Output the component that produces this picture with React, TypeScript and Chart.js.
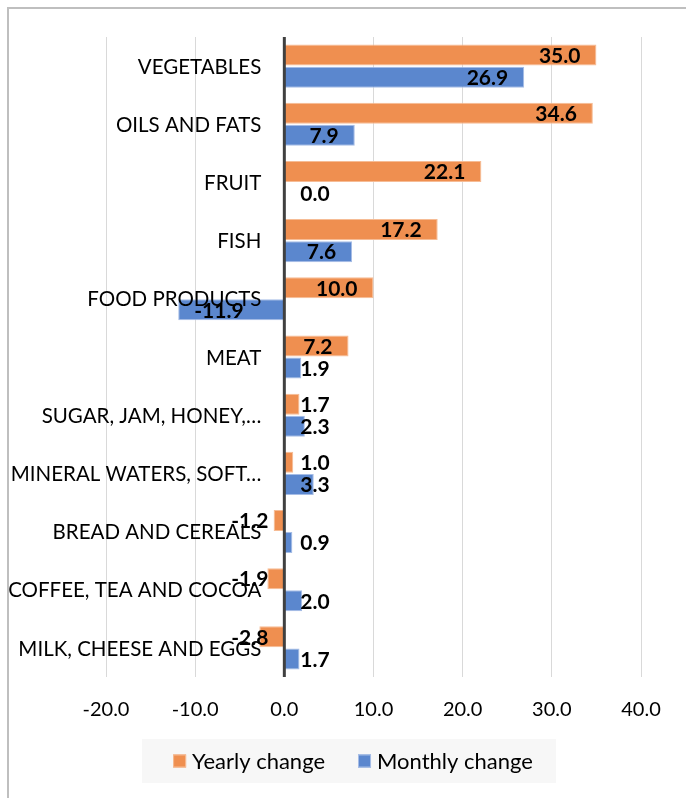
import React, { useEffect, useRef } from 'react';
import { Chart, registerables } from 'chart.js';

Chart.register(...registerables);

const categories = [
  'VEGETABLES',
  'OILS AND FATS',
  'FRUIT',
  'FISH',
  'FOOD PRODUCTS',
  'MEAT',
  'SUGAR, JAM, HONEY,…',
  'MINERAL WATERS, SOFT…',
  'BREAD AND CEREALS',
  'COFFEE, TEA AND COCOA',
  'MILK, CHEESE AND EGGS',
];
const yearlyChange = [35.0, 34.6, 22.1, 17.2, 10.0, 7.2, 1.7, 1.0, -1.2, -1.9, -2.8];
const monthlyChange = [26.9, 7.9, 0.0, 7.6, -11.9, 1.9, 2.3, 3.3, 0.9, 2.0, 1.7];
const seriesNames = ['Yearly change', 'Monthly change'];
const xTicks = [-20, -10, 0, 10, 20, 30, 40];

const FONT = 'Lato, "Open Sans", "DejaVu Sans", sans-serif';
const ORANGE = '#EF8F50';
const ORANGE_BORDER = '#F6BC95';
const BLUE = '#5B87CE';
const BLUE_BORDER = '#A6BDE6';

const overlayPlugin = {
  id: 'overlayPlugin',
  beforeDraw(chart: any) {
    const ctx = chart.ctx;
    ctx.save();
    ctx.fillStyle = '#ffffff';
    ctx.fillRect(0, 0, chart.width, chart.height);
    ctx.strokeStyle = '#bfbfbf';
    ctx.lineWidth = 2;
    ctx.beginPath();
    ctx.moveTo(8, chart.height);
    ctx.lineTo(8, 8);
    ctx.lineTo(chart.width, 8);
    ctx.stroke();
    ctx.restore();
  },
  afterDatasetsDraw(chart: any) {
    const { ctx, chartArea } = chart;
    const x = chart.scales.x;
    const y = chart.scales.y;
    const zero = x.getPixelForValue(0);
    ctx.save();
    // vertical axis line at zero
    ctx.strokeStyle = '#404040';
    ctx.lineWidth = 3;
    ctx.beginPath();
    ctx.moveTo(zero, chartArea.top);
    ctx.lineTo(zero, chartArea.bottom);
    ctx.stroke();

    // category labels next to the axis
    ctx.font = `20.5px ${FONT}`;
    ctx.fillStyle = '#000';
    ctx.textAlign = 'right';
    ctx.textBaseline = 'middle';
    categories.forEach((c, i) => {
      ctx.fillText(c, zero - 23, y.getPixelForValue(i) + 1);
    });

    // data labels
    ctx.font = `bold 21px ${FONT}`;
    chart.data.datasets.forEach((ds: any, di: number) => {
      const meta = chart.getDatasetMeta(di);
      meta.data.forEach((el: any, i: number) => {
        const v = ds.data[i] as number;
        const text = v.toFixed(1);
        const w = ctx.measureText(text).width;
        const len = Math.abs(el.x - zero);
        let tx: number;
        let align: CanvasTextAlign;
        if (v >= 0) {
          if (len - 16 - w >= 5) { tx = el.x - 16; align = 'right'; }
          else { tx = zero + 16; align = 'left'; }
        } else {
          if (len - 16 - w >= 5) { tx = el.x + 16; align = 'left'; }
          else { tx = zero - 16; align = 'right'; }
        }
        ctx.textAlign = align;
        ctx.fillText(text, tx, el.y + 1);
      });
    });
    ctx.restore();
  },
  afterDraw(chart: any) {
    const ctx = chart.ctx;
    ctx.save();
    // legend background
    ctx.fillStyle = '#f7f7f7';
    ctx.fillRect(142, 739, 414, 44);
    ctx.font = `22px ${FONT}`;
    ctx.textBaseline = 'middle';
    ctx.textAlign = 'left';
    const colors = [[ORANGE, ORANGE_BORDER], [BLUE, BLUE_BORDER]];
    const widths = seriesNames.map((s) => ctx.measureText(s).width);
    const box = 13;
    const gapText = 6;
    const gapItem = 33;
    const total = widths.reduce((a, b) => a + b, 0) + 2 * (box + gapText) + gapItem;
    let cx = 353 - total / 2;
    const cy = 761;
    seriesNames.forEach((s, i) => {
      ctx.fillStyle = colors[i][0];
      ctx.fillRect(cx, cy - box / 2, box, box);
      ctx.strokeStyle = colors[i][1];
      ctx.lineWidth = 1;
      ctx.strokeRect(cx + 0.5, cy - box / 2 + 0.5, box - 1, box - 1);
      ctx.fillStyle = '#000';
      ctx.fillText(s, cx + box + gapText, cy + 1);
      cx += box + gapText + widths[i] + gapItem;
    });
    ctx.restore();
  },
};

export default function App() {
  const canvasRef = useRef<HTMLCanvasElement | null>(null);

  useEffect(() => {
    if (!canvasRef.current) return;
    const chart = new Chart(canvasRef.current, {
      type: 'bar',
      data: {
        labels: categories,
        datasets: [
          {
            label: seriesNames[0],
            data: yearlyChange,
            backgroundColor: ORANGE,
            borderColor: ORANGE_BORDER,
            borderWidth: 1,
            categoryPercentage: 0.76,
            barPercentage: 0.95,
          },
          {
            label: seriesNames[1],
            data: monthlyChange,
            backgroundColor: BLUE,
            borderColor: BLUE_BORDER,
            borderWidth: 1,
            categoryPercentage: 0.76,
            barPercentage: 0.95,
          },
        ],
      },
      options: {
        indexAxis: 'y',
        animation: false,
        responsive: true,
        maintainAspectRatio: false,
        layout: { padding: { left: 106, right: 45, top: 37, bottom: 76 } },
        plugins: {
          legend: { display: false },
          tooltip: { enabled: false },
        },
        scales: {
          x: {
            type: 'linear',
            min: -20,
            max: 40,
            afterBuildTicks: (scale: any) => {
              scale.ticks = xTicks.map((v) => ({ value: v }));
            },
            afterFit: (scale: any) => {
              scale.height = 45;
            },
            ticks: {
              callback: (v: any) => Number(v).toFixed(1),
              font: { size: 20, family: FONT },
              color: '#000',
              padding: 21,
              maxRotation: 0,
            },
            grid: {
              color: (c: any) => (c.tick && c.tick.value === 0 ? 'rgba(0,0,0,0)' : '#d9d9d9'),
              lineWidth: 1,
              drawTicks: false,
            },
            border: { display: false },
          },
          y: {
            type: 'category',
            display: false,
            grid: { display: false },
          },
        },
      },
      plugins: [overlayPlugin],
    } as any);
    return () => chart.destroy();
  }, []);

  return (
    <div style={{ position: 'absolute', left: 0, top: 0, width: 686, height: 798 }}>
      <canvas ref={canvasRef} />
    </div>
  );
}
